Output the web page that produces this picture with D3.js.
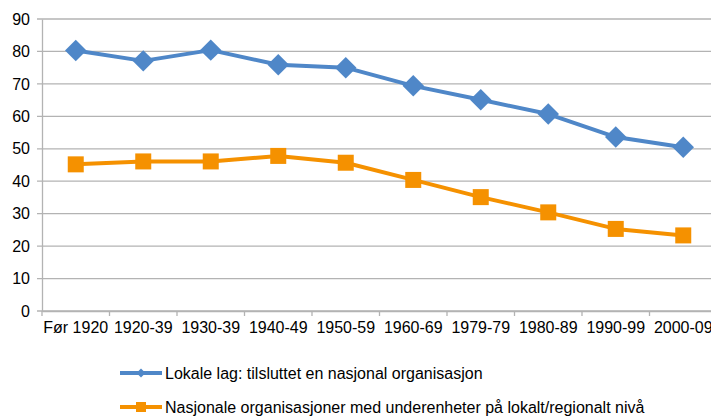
<!DOCTYPE html>
<html>
<head>
<meta charset="utf-8">
<script src="https://cdn.jsdelivr.net/npm/d3@7"></script>
<style>
  html,body{margin:0;padding:0;background:#fff;overflow:hidden;}
  svg text{font-family:"Liberation Sans",Arial,sans-serif;fill:#000;}
</style>
</head>
<body>
<svg id="chart" width="711" height="417"></svg>
<script>
const categories = ["Før 1920","1920-39","1930-39","1940-49","1950-59","1960-69","1979-79","1980-89","1990-99","2000-09"];
const lokale   = [80.3, 77.1, 80.4, 75.9, 75.0, 69.4, 65.1, 60.7, 53.6, 50.5];
const nasjonale = [45.2, 46.1, 46.1, 47.8, 45.7, 40.4, 35.1, 30.4, 25.3, 23.3];
const yTicks = [0,10,20,30,40,50,60,70,80,90];
const seriesNames = ["Lokale lag: tilsluttet en nasjonal organisasjon",
                     "Nasjonale organisasjoner med underenheter på lokalt/regionalt nivå"];

const svg = d3.select("#chart");
const X0 = 42, X1 = 717, Y0 = 311, Y1 = 19;
const BLUE = "#4f87c8", ORANGE = "#f59100", GRID = "#b3b3b3";

const x = d3.scaleBand().domain(categories).range([X0, X1]);
const y = d3.scaleLinear().domain([0, 90]).range([Y0, Y1]);

// gridlines
svg.append("g").selectAll("line").data(yTicks).join("line")
  .attr("x1", X0 - 5).attr("x2", X1)
  .attr("y1", d => y(d)).attr("y2", d => y(d))
  .attr("stroke", GRID).attr("stroke-width", 1.3);

// y axis
const yAxis = svg.append("g").attr("transform", `translate(${X0},0)`)
  .call(d3.axisLeft(y).tickValues(yTicks).tickSize(0).tickPadding(12));
yAxis.select(".domain").attr("stroke", GRID).attr("stroke-width", 1.3);
yAxis.selectAll("text").style("font-size", "16px");

// x axis
const xAxis = svg.append("g").attr("transform", `translate(0,${Y0})`)
  .call(d3.axisBottom(x).tickSize(0).tickPadding(11));
xAxis.select(".domain").attr("stroke", GRID).attr("stroke-width", 1.3);
xAxis.selectAll("text").style("font-size", "16px");
svg.append("g").selectAll("line").data(d3.range(categories.length + 1)).join("line")
  .attr("x1", i => X0 + i * x.step()).attr("x2", i => X0 + i * x.step())
  .attr("y1", Y0).attr("y2", Y0 + 5)
  .attr("stroke", GRID).attr("stroke-width", 1.3);

const cx = c => x(c) + x.bandwidth() / 2;
const line = d3.line().x((d, i) => cx(categories[i])).y(d => y(d));

// series lines
svg.append("path").datum(lokale).attr("d", line)
  .attr("fill", "none").attr("stroke", BLUE).attr("stroke-width", 4).attr("stroke-linejoin", "round");
svg.append("path").datum(nasjonale).attr("d", line)
  .attr("fill", "none").attr("stroke", ORANGE).attr("stroke-width", 4).attr("stroke-linejoin", "round");

// markers
svg.append("g").selectAll("path").data(lokale).join("path")
  .attr("d", d3.symbol(d3.symbolSquare, 230))
  .attr("transform", (d, i) => `translate(${cx(categories[i])},${y(d)}) rotate(45)`)
  .attr("fill", BLUE);
svg.append("g").selectAll("rect").data(nasjonale).join("rect")
  .attr("x", (d, i) => cx(categories[i]) - 8).attr("y", d => y(d) - 8)
  .attr("width", 16).attr("height", 16)
  .attr("fill", ORANGE);

// legend
const legend = svg.append("g");
const legendY = [373, 407];
const colors = [BLUE, ORANGE];
seriesNames.forEach((name, i) => {
  const g = legend.append("g").attr("transform", `translate(120,${legendY[i]})`);
  g.append("line").attr("x1", 0).attr("x2", 42).attr("stroke", colors[i]).attr("stroke-width", 4);
  if (i === 0) {
    g.append("path").attr("d", d3.symbol(d3.symbolSquare, 40)).attr("transform", "translate(21,0) rotate(45)").attr("fill", BLUE);
  } else {
    g.append("rect").attr("x", 16).attr("y", -5).attr("width", 10).attr("height", 10).attr("fill", ORANGE);
  }
  g.append("text").attr("x", 45).attr("dy", "0.35em").style("font-size", "16px").text(name);
});
</script>
</body>
</html>
